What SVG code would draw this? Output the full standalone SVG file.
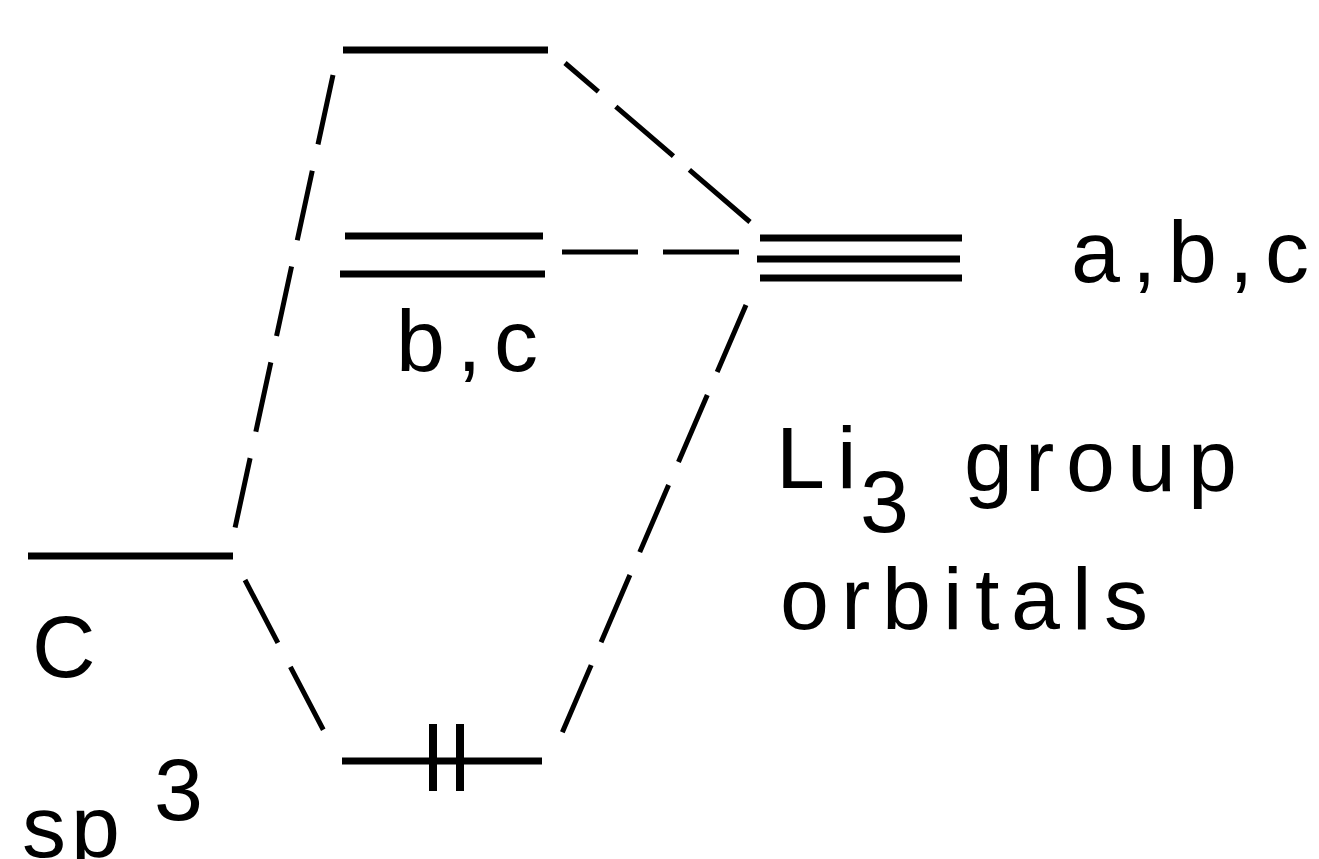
<svg xmlns="http://www.w3.org/2000/svg" width="1319" height="859" viewBox="0 0 1319 859">
<style>
.lvl{stroke:#000;stroke-width:7;fill:none;stroke-linecap:butt}
.tick{stroke:#000;stroke-width:8;fill:none}
.dash{stroke:#000;stroke-width:5;fill:none}
.t{font-family:"Liberation Sans",Arial,sans-serif;font-size:88px;letter-spacing:12px;fill:#000}
.t0{font-family:"Liberation Sans",Arial,sans-serif;font-size:88px;fill:#000}
</style>
<rect width="1319" height="859" fill="#fff"/>
<g id="connectors">
<line class="dash" x1="333" y1="75" x2="235" y2="528" stroke-dasharray="71 27"/>
<line class="dash" x1="245" y1="580" x2="326" y2="735" stroke-dasharray="71 27"/>
<line class="dash" x1="565" y1="63" x2="750" y2="222" stroke-dasharray="44 23 76 21 80"/>
<line class="dash" x1="562" y1="252" x2="740" y2="252" stroke-dasharray="76 25"/>
<line class="dash" x1="746" y1="305" x2="562" y2="733" stroke-dasharray="73 25"/>
</g>
<g id="c-sp3">
<line class="lvl" x1="28" y1="556" x2="233" y2="556"/>
<text class="t" x="32" y="677">C</text>
<text class="t0" x="22 71" y="857">sp</text>
<text class="t" x="154" y="820">3</text>
</g>
<g id="mo-top">
<line class="lvl" x1="343" y1="50" x2="548" y2="50"/>
</g>
<g id="mo-bc">
<line class="lvl" x1="345" y1="236" x2="543" y2="236"/>
<line class="lvl" x1="340" y1="274" x2="545" y2="274"/>
<text class="t0" x="396 457 494" y="371">b,c</text>
</g>
<g id="mo-bottom">
<line class="lvl" x1="342" y1="761" x2="542" y2="761"/>
<line class="tick" x1="433" y1="724" x2="433" y2="791"/>
<line class="tick" x1="460" y1="724" x2="460" y2="791"/>
</g>
<g id="li3">
<line class="lvl" x1="760" y1="238" x2="962" y2="238"/>
<line class="lvl" x1="757" y1="259" x2="960" y2="259"/>
<line class="lvl" x1="760" y1="278" x2="962" y2="278"/>
<text class="t0" x="1071 1132 1168 1229 1265" y="282">a,b,c</text>
<text class="t" x="776" y="488">Li</text>
<text class="t" x="860" y="532">3</text>
<text class="t0" x="964 1025 1066 1127 1188" y="491">group</text>
<text class="t0" x="780 841 882 943 975 1011 1072 1104" y="629">orbitals</text>
</g>
</svg>
